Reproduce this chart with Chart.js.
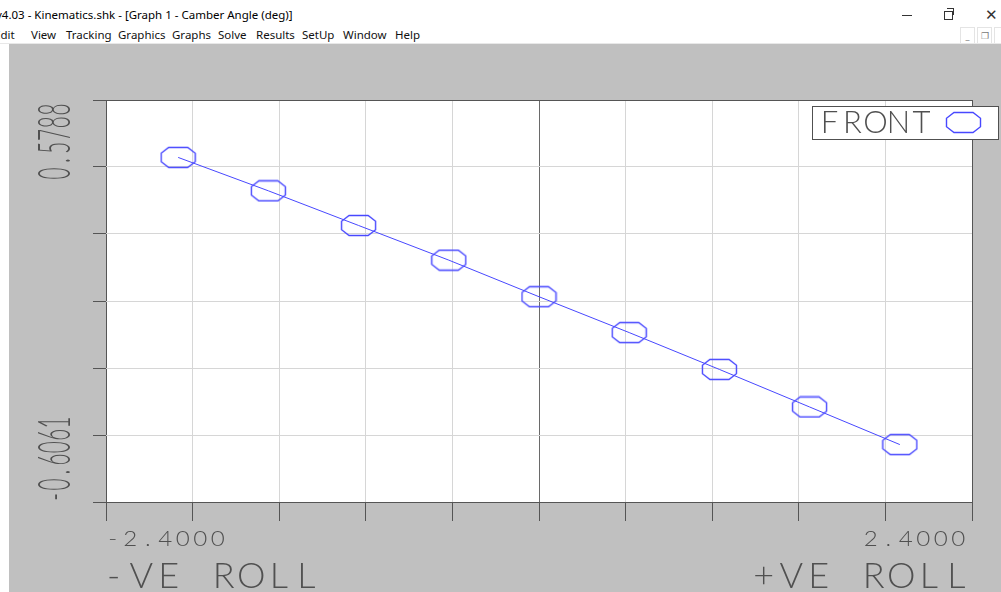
<!DOCTYPE html>
<html>
<head>
<meta charset="utf-8">
<script src="https://cdn.jsdelivr.net/npm/chart.js@4.4.1/dist/chart.umd.min.js"></script>
<style>
  html, body { margin: 0; padding: 0; width: 1001px; height: 592px; overflow: hidden; background: #fff; }
  body { position: relative; font-family: "Segoe UI", "Noto Sans", sans-serif; color: #000; }
  #title { position: absolute; left: -4px; top: 7px; font-size: 11.5px; white-space: nowrap; }
  .menu { position: absolute; top: 27px; font-size: 11.5px; white-space: nowrap; color: #111; }
  .winbtn { position: absolute; color: #333; }
  .mdibtn { position: absolute; top: 27px; width: 13px; height: 15px; border: 1px solid #e4e4e4; background: #fff; font-size: 9px; color: #777; text-align: center; line-height: 15px; }
  #sep { position: absolute; left: 0; top: 43px; width: 1001px; height: 1px; background: #e8e8e8; }
  #frame { position: absolute; left: 9px; top: 44px; width: 992px; height: 548px; background: #c0c0c0; }
  #plot { display: block; }
</style>
</head>
<body>
<div id="title">v4.03 - Kinematics.shk - [Graph 1 - Camber Angle (deg)]</div>
<span class="menu" style="left:-6px">Edit</span>
<span class="menu" style="left:31px">View</span>
<span class="menu" style="left:66px">Tracking</span>
<span class="menu" style="left:118px">Graphics</span>
<span class="menu" style="left:172px">Graphs</span>
<span class="menu" style="left:218px">Solve</span>
<span class="menu" style="left:256px">Results</span>
<span class="menu" style="left:302px">SetUp</span>
<span class="menu" style="left:343px">Window</span>
<span class="menu" style="left:395px">Help</span>
<div class="winbtn" style="left:902px;top:15px;width:10px;height:1px;background:#333"></div>
<div class="winbtn" style="left:944px;top:11px;width:7px;height:7px;border:1px solid #333"></div>
<div class="winbtn" style="left:947px;top:8px;width:6px;height:6px;border-top:1px solid #333;border-right:1px solid #333"></div>
<div class="winbtn" style="left:985px;top:4px;font-size:15px;">&#x2715;</div>
<div class="mdibtn" style="left:960px">_</div>
<div class="mdibtn" style="left:977px">&#x2750;</div>
<div class="mdibtn" style="left:994px"></div>
<div id="sep"></div>
<div id="frame"><canvas id="plot" width="992" height="548"></canvas></div>
<script>
// roll angle (deg) vs camber angle (deg), front suspension
const rollValues = [-2.4, -1.8, -1.2, -0.6, 0, 0.6, 1.2, 1.8, 2.4];
const camberValues = [0.5788, 0.441, 0.298, 0.155, 0.004, -0.144, -0.296, -0.451, -0.6061];
const seriesName = 'FRONT';
const rollLabels = ['-VE ROLL', '+VE ROLL'];
const xDivisions = 10;
const yDivisions = 6;

const ink = '#505050';
const blue = '#4848ff';

// axis bounds: data range plus a margin, like the original program
const xLo = Math.min(...rollValues), xHi = Math.max(...rollValues);
const yLo = Math.min(...camberValues), yHi = Math.max(...camberValues);
const xPad = (xHi - xLo) * 0.1, yPad = (yHi - yLo) * 0.2;

function evenTicks(lo, hi, n) {
    const out = [];
    for (let i = 0; i <= n; i++) out.push({ value: lo + (hi - lo) * i / n });
    return out;
}

// hollow octagon marker
function makeOctagon(w, h) {
    const c = document.createElement('canvas');
    c.width = w; c.height = h;
    const g = c.getContext('2d');
    const cx = w / 2, cy = h / 2, rx = w / 2 - 1.5, ry = h / 2 - 1.5;
    const pts = [[-0.56, -1], [0.56, -1], [1, -0.42], [1, 0.42], [0.56, 1], [-0.56, 1], [-1, 0.42], [-1, -0.42]];
    g.strokeStyle = blue;
    g.lineWidth = 1.4;
    g.beginPath();
    pts.forEach(([px, py], i) => {
        const X = cx + px * rx, Y = cy + py * ry;
        if (i === 0) g.moveTo(X, Y); else g.lineTo(X, Y);
    });
    g.closePath();
    g.stroke();
    return c;
}
const octagon = makeOctagon(37, 23);

// stroke-font look: each character centred in a fixed cell
function pitched(ctx, text, x, y, pitch, size, sx) {
    ctx.save();
    ctx.font = '300 ' + size + 'px Lato, "DejaVu Sans", sans-serif';
    ctx.fillStyle = ink;
    ctx.textAlign = 'center';
    ctx.textBaseline = 'alphabetic';
    for (let i = 0; i < text.length; i++) {
        ctx.save();
        ctx.translate(x + (i + 0.5) * pitch, y);
        ctx.scale(sx, 1);
        ctx.fillText(text[i], 0, 0);
        ctx.restore();
    }
    ctx.restore();
}

const plotBackground = {
    id: 'plotBackground',
    beforeDraw(chart) {
        const { ctx, chartArea: a } = chart;
        ctx.save();
        ctx.fillStyle = '#fff';
        ctx.fillRect(a.left, a.top, a.right - a.left, a.bottom - a.top);
        ctx.restore();
    }
};

const labelsPlugin = {
    id: 'shkLabels',
    afterDraw(chart) {
        const { ctx, chartArea: a } = chart;
        // x range labels
        pitched(ctx, xLo.toFixed(4), a.left - 2, a.bottom + 44, 17.5, 22, 1.1);
        const xmax = xHi.toFixed(4);
        pitched(ctx, xmax, a.right - 5 - xmax.length * 17.5, a.bottom + 44, 17.5, 22, 1.1);
        // axis captions
        pitched(ctx, rollLabels[0], a.left - 6, a.bottom + 86, 27.5, 36, 1);
        pitched(ctx, rollLabels[1], a.right - 2 - rollLabels[1].length * 27.5, a.bottom + 86, 27.5, 36, 1);
        // y range labels, rotated
        const ymin = yLo.toFixed(4), ymax = yHi.toFixed(4);
        ctx.save();
        ctx.translate(a.left - 36, a.bottom + 1);
        ctx.rotate(-Math.PI / 2);
        pitched(ctx, ymin, 0, 0, 12.4, 46, 0.45);
        ctx.restore();
        ctx.save();
        ctx.translate(a.left - 36, a.top + 3 + ymax.length * 12.8);
        ctx.rotate(-Math.PI / 2);
        pitched(ctx, ymax, 0, 0, 12.8, 46, 0.45);
        ctx.restore();
        // legend box
        const bx = a.right - 160, by = a.top + 6, bw = 186, bh = 33;
        ctx.save();
        ctx.fillStyle = '#fff';
        ctx.fillRect(bx, by, bw, bh);
        ctx.strokeStyle = ink;
        ctx.lineWidth = 1;
        ctx.strokeRect(bx + 0.5, by + 0.5, bw, bh);
        ctx.restore();
        pitched(ctx, chart.data.datasets[0].label, bx + 6, by + 27, 23, 31, 1);
        ctx.drawImage(octagon, bx + 133, by + 5);
    }
};

const gridColor = (n, mid) => c => (c.index === 0 || c.index === n) ? '#555' : (c.index === mid ? '#6a6a6a' : '#d6d6d6');

new Chart(document.getElementById('plot'), {
    type: 'scatter',
    data: {
        datasets: [{
            label: seriesName,
            data: rollValues.map((x, i) => ({ x: x, y: camberValues[i] })),
            showLine: true,
            borderColor: blue,
            borderWidth: 1,
            pointStyle: octagon,
            pointRadius: 10,
            pointHoverRadius: 10
        }]
    },
    options: {
        responsive: false,
        animation: false,
        events: [],
        layout: { padding: { left: 84, top: 56, right: 29, bottom: 71 } },
        plugins: { legend: { display: false }, tooltip: { enabled: false } },
        scales: {
            x: {
                type: 'linear',
                min: xLo - xPad,
                max: xHi + xPad,
                afterBuildTicks: s => { s.ticks = evenTicks(s.min, s.max, xDivisions); },
                ticks: { display: false },
                border: { display: false },
                grid: { color: gridColor(xDivisions, xDivisions / 2), tickColor: '#555', tickLength: 19 }
            },
            y: {
                type: 'linear',
                min: yLo - yPad,
                max: yHi + yPad,
                afterBuildTicks: s => { s.ticks = evenTicks(s.min, s.max, yDivisions); },
                ticks: { display: false },
                border: { display: false },
                grid: { color: gridColor(yDivisions, -1), tickColor: '#555', tickLength: 13 }
            }
        }
    },
    plugins: [plotBackground, labelsPlugin]
});
</script>
</body>
</html>
